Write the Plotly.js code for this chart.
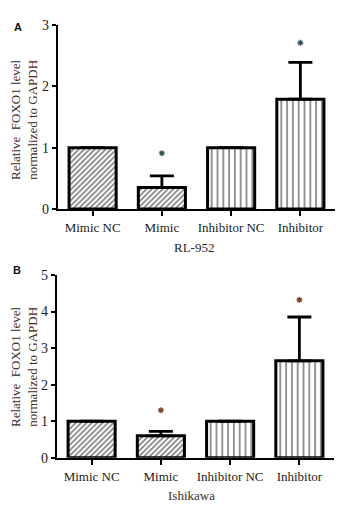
<!DOCTYPE html>
<html>
<head>
<meta charset="utf-8">
<script src="https://cdn.plot.ly/plotly-3.0.1.min.js"></script>
<style>html,body{margin:0;padding:0;background:#fff;}#chart{width:355px;height:510px;}</style>
</head>
<body>
<div id="chart"></div>
<script>
var categories = ['Mimic NC', 'Mimic', 'Inhibitor NC', 'Inhibitor'];
var patterns = ['/', '/', '|', '|'];

var rl952Values = [1, 0.35, 1, 1.79];
var rl952ErrUp = [0, 0.19, 0, 0.60];
var rl952Star = [null, 0.91, null, 2.71];

var ishikawaValues = [1, 0.60, 1, 2.65];
var ishikawaErrUp = [0, 0.12, 0, 1.20];
var ishikawaStar = [null, 1.30, null, 4.32];

var yTicksA = [0, 1, 2, 3];
var yTicksB = [0, 1, 2, 3, 4, 5];

var W = 355, H = 510;
function px(x) { return x / W; }
function py(y) { return 1 - y / H; }

function barTrace(vals, errs, xa, ya) {
  return {
    type: 'bar', x: categories, y: vals, xaxis: xa, yaxis: ya,
    width: 0.68,
    marker: {
      color: '#ffffff',
      line: {color: '#000000', width: 3},
      pattern: {
        shape: patterns,
        size: [3.8, 3.8, 5.8, 5.8],
        solidity: [0.45, 0.45, 0.28, 0.28],
        fgcolor: '#000000', bgcolor: '#ffffff', fillmode: 'overlay'
      }
    },
    error_y: {type: 'data', symmetric: false, array: errs,
      arrayminus: errs.map(function(){return 0;}),
      color: '#000', thickness: 2.8, width: 12},
    hoverinfo: 'none', showlegend: false
  };
}
function starTrace(vals, xa, ya, color) {
  return {
    type: 'scatter', mode: 'markers', x: categories, y: vals, xaxis: xa, yaxis: ya,
    marker: {symbol: 'asterisk-open', size: 5, color: color, line: {color: color, width: 1.2}},
    hoverinfo: 'none', showlegend: false
  };
}

var tickFont = {family: 'Liberation Serif, Times New Roman, serif', size: 13, color: '#1a1a1a'};
var yTickFont = {family: 'Liberation Serif, Times New Roman, serif', size: 14, color: '#1a1a1a'};
var titleFont = {family: 'Liberation Serif, Times New Roman, serif', size: 13, color: '#3d2b1f'};

function xAxis(domain, anchor) {
  return {domain: domain, anchor: anchor, type: 'category', categoryorder: 'array',
    categoryarray: categories, range: [-0.5, 3.5],
    showline: true, linecolor: '#000', linewidth: 2.2,
    ticks: 'outside', ticklen: 5, tickwidth: 2, tickcolor: '#000',
    tickfont: tickFont, showgrid: false, zeroline: false, fixedrange: true};
}
function yAxis(domain, anchor, ticks, max) {
  return {domain: domain, anchor: anchor, range: [0, max],
    tickvals: ticks, ticktext: ticks.map(String),
    showline: true, linecolor: '#000', linewidth: 2.2,
    ticks: 'outside', ticklen: 4, tickwidth: 2, tickcolor: '#000',
    tickfont: yTickFont, showgrid: false, zeroline: false, fixedrange: true};
}

var data = [
  barTrace(rl952Values, rl952ErrUp, 'x', 'y'),
  starTrace(rl952Star, 'x', 'y', '#2f4f55'),
  barTrace(ishikawaValues, ishikawaErrUp, 'x2', 'y2'),
  starTrace(ishikawaStar, 'x2', 'y2', '#7a4020')
];

function ann(text, x, y, font, angle) {
  return {text: text, x: px(x), y: py(y), xref: 'paper', yref: 'paper',
    xanchor: 'center', yanchor: 'middle', showarrow: false, font: font,
    textangle: angle || 0};
}
var ytitle = 'Relative  FOXO1 level<br>normalized to GAPDH';
var labelFont = {family: 'Liberation Sans, Arial, sans-serif', size: 11, color: '#111'};
var layout = {
  width: W, height: H,
  margin: {l: 0, r: 0, t: 0, b: 0},
  paper_bgcolor: '#fff', plot_bgcolor: '#fff',
  xaxis: xAxis([px(58), px(335)], 'y'),
  yaxis: yAxis([py(209), py(25)], 'x', yTicksA, 3),
  xaxis2: xAxis([px(57), px(334)], 'y2'),
  yaxis2: yAxis([py(457.7), py(275)], 'x2', yTicksB, 5),
  annotations: [
    ann('<b>A</b>', 17.5, 27, labelFont),
    ann('<b>B</b>', 17, 270, labelFont),
    ann(ytitle, 24, 120, titleFont, -90),
    ann(ytitle, 24, 367, titleFont, -90),
    ann('RL-952', 194, 247, {family: 'Liberation Serif, Times New Roman, serif', size: 13, color: '#2a2a2a'}),
    ann('Ishikawa', 192, 495, {family: 'Liberation Serif, Times New Roman, serif', size: 13, color: '#3d2b1f'})
  ]
};

Plotly.newPlot('chart', data, layout, {staticPlot: true, displayModeBar: false});
</script>
</body>
</html>
